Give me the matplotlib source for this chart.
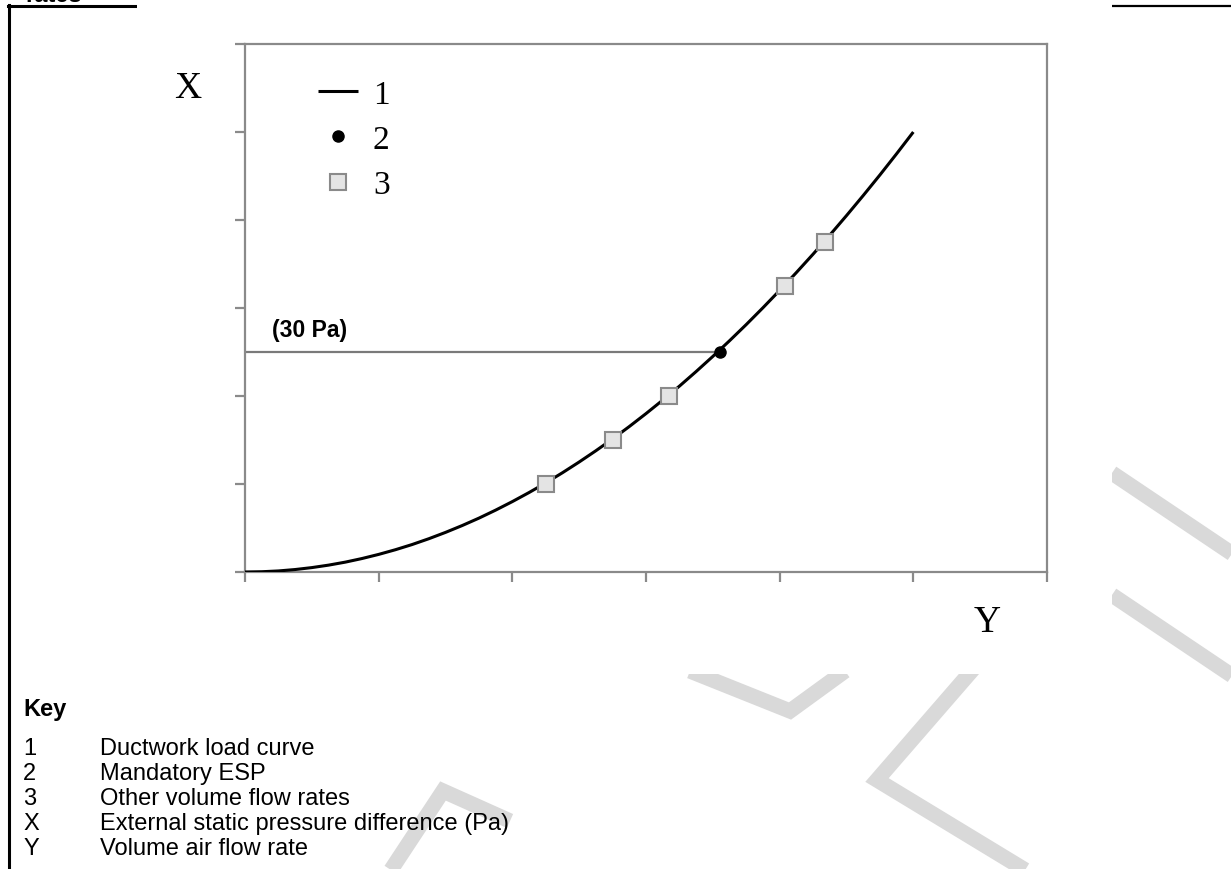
import matplotlib
matplotlib.use("Agg")
import matplotlib.pyplot as plt
from matplotlib.patches import Rectangle
from matplotlib.lines import Line2D

# ---- data ----
curve_x = [0, 0.125, 0.25, 0.375, 0.5, 0.625, 0.75, 0.875, 1.0, 1.125, 1.25, 1.375, 1.5,
           1.625, 1.75, 1.875, 2.0, 2.125, 2.25, 2.375, 2.5, 2.625, 2.75, 2.875, 3.0,
           3.125, 3.25, 3.375, 3.5, 3.625, 3.75, 3.875, 4.0, 4.125, 4.25, 4.375, 4.5,
           4.625, 4.75, 4.875, 5.0]
curve_y = [0, 0.003, 0.012, 0.028, 0.05, 0.078, 0.112, 0.153, 0.20, 0.253, 0.312, 0.378,
           0.45, 0.528, 0.612, 0.703, 0.80, 0.903, 1.012, 1.128, 1.25, 1.378, 1.512,
           1.653, 1.80, 1.953, 2.112, 2.278, 2.45, 2.628, 2.812, 3.003, 3.20, 3.403,
           3.612, 3.828, 4.05, 4.278, 4.512, 4.753, 5.0]
other_x = [2.25, 2.75, 3.17, 4.04, 4.34]
other_y = [1.0, 1.5, 2.0, 3.25, 3.75]
esp_x = [3.55]
esp_y = [2.5]
esp_label = "(30 Pa)"
x_ticks = [0, 1, 2, 3, 4, 5, 6]
y_ticks = [0, 1, 2, 3, 4, 5, 6]
legend_labels = ["1", "2", "3"]
key_title = "Key"
key_codes = ["1", "2", "3", "X", "Y"]
key_texts = ["Ductwork load curve", "Mandatory ESP", "Other volume flow rates",
             "External static pressure difference (Pa)", "Volume air flow rate"]

W, H = 1231, 870
fig = plt.figure(figsize=(W / 100, H / 100), dpi=100)

def fx(px):
    return px / W

def fy(py):
    return 1 - py / H

# ---- watermark (grey bands) ----
wm_color = "#d9d9d9"
wm_lw = 11
bands = [
    [(1112, 474), (1240, 560)],
    [(1112, 596), (1240, 682)],
    [(975, 668), (877, 781), (1040, 880)],
    [(690, 672), (790, 712), (845, 672)],
    [(385, 880), (443, 792), (510, 822)],
]
for b in bands:
    xs = [fx(p[0]) for p in b]
    ys = [fy(p[1]) for p in b]
    fig.add_artist(Line2D(xs, ys, color=wm_color, lw=wm_lw, solid_joinstyle="miter",
                          solid_capstyle="butt", zorder=0))

# ---- document frame lines ----
fig.add_artist(Line2D([fx(8.5), fx(8.5)], [fy(6), fy(875)], color="black", lw=2.2, zorder=1))
fig.add_artist(Line2D([fx(7.5), fx(137)], [fy(7), fy(7)], color="black", lw=2.2, zorder=1))
fig.add_artist(Line2D([fx(1112), fx(1231)], [fy(7), fy(7)], color="black", lw=1.6, zorder=1))
fig.text(fx(25), fy(2), "rates", fontsize=17, fontweight="bold", family="Liberation Sans",
         ha="left", va="baseline", zorder=1)

# ---- chart picture background ----
fig.add_artist(Rectangle((fx(137), fy(675)), fx(1112) - fx(137), fy(0) - fy(675) + 0.01,
                         transform=fig.transFigure, facecolor="white", edgecolor="none", zorder=2))

# ---- axes ----
left, right, top, bottom = 245, 1047, 45, 573
ax = fig.add_axes([fx(left), fy(bottom), (right - left) / W, (bottom - top) / H])
ax.set_zorder(3)
ax.set_xlim(0, 6)
ax.set_ylim(0, 6)
ax.set_xticks(x_ticks)
ax.set_yticks(y_ticks)
ax.set_xticklabels([])
ax.set_yticklabels([])
spine_c = "#8a8a8a"
for s in ax.spines.values():
    s.set_color(spine_c)
    s.set_linewidth(1.6)
ax.tick_params(direction="out", length=7.5, width=1.6, color=spine_c)

ax.plot([0, esp_x[0]], [esp_y[0], esp_y[0]], color="#7a7a7a", lw=1.6, zorder=2)
ax.plot(curve_x, curve_y, color="black", lw=2.2, label=legend_labels[0], zorder=3,
        solid_capstyle="butt")
ax.plot(esp_x, esp_y, linestyle="none", marker="o", color="black", markersize=8,
        label=legend_labels[1], zorder=5)
ax.plot(other_x, other_y, linestyle="none", marker="s", markersize=11.5,
        markerfacecolor="#e4e4e4", markeredgecolor="#8a8a8a", markeredgewidth=1.5,
        label=legend_labels[2], zorder=4)
ax.text(0.2, 2.76, esp_label, fontsize=16.5, fontweight="bold", family="Liberation Sans",
        ha="left", va="center")

leg = ax.legend(loc="upper left", bbox_to_anchor=(fx(318), fy(80)),
                bbox_transform=fig.transFigure, frameon=False,
                prop={"family": "Liberation Serif", "size": 24},
                handlelength=1.2, handletextpad=0.45, labelspacing=0.45,
                borderaxespad=0, borderpad=0, numpoints=1)

fig.text(fx(188), fy(89), "X", fontsize=27, family="Liberation Serif", ha="center",
         va="center", zorder=4)
fig.text(fx(987), fy(623), "Y", fontsize=27, family="Liberation Serif", ha="center",
         va="center", zorder=4)

# ---- key ----
fig.text(fx(23), fy(710), key_title, fontsize=17, fontweight="bold",
         family="Liberation Sans", ha="left", va="center", zorder=4)
row_y = [749, 774, 799, 824, 849]
for code, txt, ry in zip(key_codes, key_texts, row_y):
    fig.text(fx(23), fy(ry), code, fontsize=17, family="Liberation Sans",
             ha="left", va="center", zorder=4)
    fig.text(fx(100), fy(ry), txt, fontsize=17, family="Liberation Sans",
             ha="left", va="center", zorder=4)

fig.savefig("out.png", dpi=100)
